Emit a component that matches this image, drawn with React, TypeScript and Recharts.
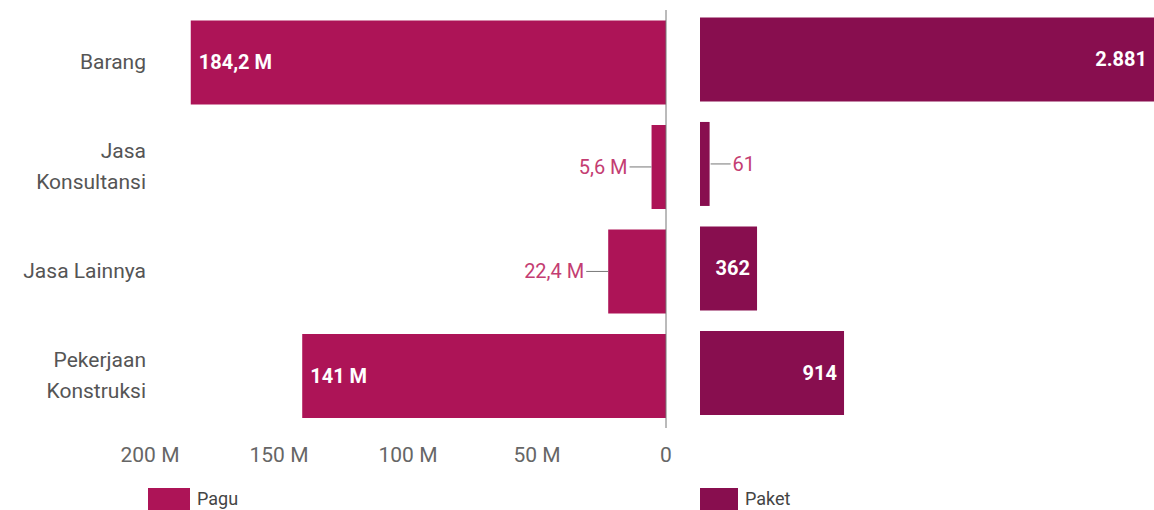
import { BarChart, Bar, XAxis, YAxis, ReferenceLine, LabelList } from 'recharts';

const categories = ['Barang', 'Jasa Konsultansi', 'Jasa Lainnya', 'Pekerjaan Konstruksi'];
const paguValues = [184.2e6, 5.6e6, 22.4e6, 141e6];
const paketValues = [2881, 61, 362, 914];
const paguTicks = [0, 50e6, 100e6, 150e6, 200e6];
const seriesNames = ['Pagu', 'Paket'];

const COLORS = {
  pagu: '#AD1457',
  paket: '#880E4F',
  outsideLabel: '#C43D72',
  leader: '#777',
  category: '#555',
  tick: '#666',
};

const data = categories.map((name, i) => ({
  name,
  pagu: paguValues[i],
  paket: paketValues[i],
}));

// 184.2e6 -> "184,2 M"
const formatPagu = (v: number) => {
  const m = Math.round((v / 1e6) * 10) / 10;
  return `${String(m).replace('.', ',')} M`;
};

// 2881 -> "2.881"
const formatPaket = (v: number) => String(v).replace(/\B(?=(\d{3})+(?!\d))/g, '.');

const CategoryTick = (props: any) => {
  const { x, y, payload } = props;
  const text: string = payload.value;
  const lines = text.length > 13 ? text.split(' ') : [text];
  const lh = 31;
  const startDy = -((lines.length - 1) * lh) / 2;
  return (
    <text x={x + 2} y={y} textAnchor="end" fill={COLORS.category} fontSize={21} dominantBaseline="central">
      {lines.map((l, i) => (
        <tspan key={i} x={x + 2} dy={i === 0 ? startDy : lh}>
          {l}
        </tspan>
      ))}
    </text>
  );
};

const PaguLabel = (props: any) => {
  const { x, y, width, height, value } = props;
  const left = Math.min(x, x + width);
  const cy = y + height / 2;
  if (value > 50e6) {
    return (
      <text x={left + 8} y={cy} fill="#fff" fontSize={20} fontWeight={700} dominantBaseline="central">
        {formatPagu(value)}
      </text>
    );
  }
  return (
    <g>
      <line x1={left - 22} x2={left} y1={cy} y2={cy} stroke={COLORS.leader} />
      <text x={left - 24} y={cy} textAnchor="end" fill={COLORS.outsideLabel} fontSize={20} dominantBaseline="central">
        {formatPagu(value)}
      </text>
    </g>
  );
};

const PaketLabel = (props: any) => {
  const { x, y, width, height, value } = props;
  const right = Math.max(x, x + width);
  const cy = y + height / 2;
  if (value > 200) {
    return (
      <text x={right - 7} y={cy} textAnchor="end" fill="#fff" fontSize={20} fontWeight={700} dominantBaseline="central">
        {formatPaket(value)}
      </text>
    );
  }
  return (
    <g>
      <line x1={right + 1} x2={right + 21} y1={cy} y2={cy} stroke={COLORS.leader} />
      <text x={right + 23} y={cy} fill={COLORS.outsideLabel} fontSize={20} dominantBaseline="central">
        {formatPaket(value)}
      </text>
    </g>
  );
};

const LegendItem = ({ left, swatch, color, label }: { left: number; swatch: number; color: string; label: string }) => (
  <div style={{ position: 'absolute', left, top: 488, display: 'flex', alignItems: 'flex-start' }}>
    <div style={{ width: swatch, height: 22, background: color }} />
    <span style={{ marginLeft: 7, fontSize: 18, color: '#444', lineHeight: '22px' }}>{label}</span>
  </div>
);

export default function App() {
  return (
    <div
      style={{
        position: 'absolute',
        left: 0,
        top: 0,
        width: 1154,
        height: 510,
        overflow: 'hidden',
        background: '#fff',
        fontFamily: 'Roboto, sans-serif',
      }}
    >
      <div style={{ position: 'absolute', left: 0, top: 0 }}>
        <BarChart
          width={680}
          height={510}
          layout="vertical"
          data={data}
          margin={{ top: 10, right: 14, left: 0, bottom: 0 }}
          barCategoryGap="10%"
        >
          <XAxis
            type="number"
            reversed
            domain={[0, 200e6]}
            ticks={paguTicks}
            tickFormatter={(v: number) => (v === 0 ? '0' : `${v / 1e6} M`)}
            axisLine={false}
            tickLine={false}
            tick={{ fill: COLORS.tick, fontSize: 21 }}
            tickMargin={13}
            height={82}
            interval={0}
          />
          <YAxis
            type="category"
            dataKey="name"
            width={150}
            axisLine={false}
            tickLine={false}
            tickMargin={0}
            tick={CategoryTick}
          />
          <Bar dataKey="pagu" name={seriesNames[0]} fill={COLORS.pagu} isAnimationActive={false}>
            <LabelList dataKey="pagu" content={PaguLabel} />
          </Bar>
          <ReferenceLine x={0} stroke="#777" strokeWidth={1} />
        </BarChart>
      </div>

      <div style={{ position: 'absolute', left: 690, top: 0 }}>
        <BarChart
          width={464}
          height={510}
          layout="vertical"
          data={data}
          margin={{ top: 7, right: 0, left: 10, bottom: 85 }}
          barCategoryGap="10%"
        >
          <XAxis type="number" hide domain={[0, 'dataMax']} />
          <YAxis type="category" dataKey="name" hide />
          <Bar dataKey="paket" name={seriesNames[1]} fill={COLORS.paket} isAnimationActive={false}>
            <LabelList dataKey="paket" content={PaketLabel} />
          </Bar>
        </BarChart>
      </div>

      <LegendItem left={148} swatch={42} color={COLORS.pagu} label={seriesNames[0]} />
      <LegendItem left={700} swatch={38} color={COLORS.paket} label={seriesNames[1]} />
    </div>
  );
}
